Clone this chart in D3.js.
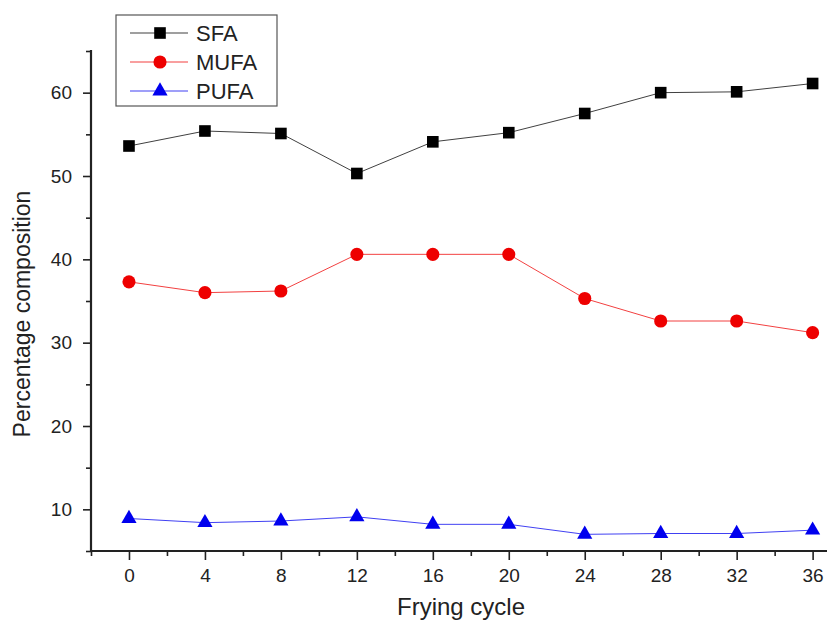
<!DOCTYPE html>
<html>
<head>
<meta charset="utf-8">
<script src="https://cdn.jsdelivr.net/npm/d3@7"></script>
<style>
  body { margin: 0; background: #fff; }
  svg { display: block; font-family: "Liberation Sans", Arial, sans-serif; }
</style>
</head>
<body>
<svg id="chart" width="827" height="623"></svg>
<script>
// frying cycles
const cycles = [0, 4, 8, 12, 16, 20, 24, 28, 32, 36];
const sfa = [53.6, 55.4, 55.1, 50.3, 54.1, 55.2, 57.5, 60.0, 60.1, 61.1];
const mufa = [37.3, 36.0, 36.2, 40.6, 40.6, 40.6, 35.3, 32.6, 32.6, 31.2];
const pufa = [8.9, 8.4, 8.6, 9.1, 8.2, 8.2, 7.0, 7.1, 7.1, 7.5];
const yTicks = [10, 20, 30, 40, 50, 60];

const svg = d3.select("#chart");
const plotLeft = 91, plotTop = 51, plotBottom = 551;

const x = d3.scaleLinear().domain([-2, 38]).range([plotLeft, plotLeft + 40 * 18.99]);
const y = d3.scaleLinear().domain([5, 65]).range([plotBottom, plotTop]);

const series = [
  { name: "SFA", values: sfa, color: "#000000", shape: d3.symbolSquare, size: 135 },
  { name: "MUFA", values: mufa, color: "#ee0000", shape: d3.symbolCircle, size: 135 },
  { name: "PUFA", values: pufa, color: "#0000ee", shape: d3.symbolTriangle, size: 100 }
];

// axes
const xAxis = d3.axisBottom(x).tickValues(cycles).tickSize(9).tickPadding(9).tickFormat(d3.format("d"));
const xMinor = d3.axisBottom(x).tickValues(d3.range(-2, 40, 4)).tickSize(5).tickFormat("");
const yAxis = d3.axisLeft(y).tickValues(yTicks).tickSize(8).tickPadding(11);
const yMinor = d3.axisLeft(y).tickValues(d3.range(5, 70, 10)).tickSize(5).tickFormat("");

function styleAxis(g) {
  g.select(".domain").remove();
  g.selectAll("line").attr("stroke", "#222").attr("stroke-width", 1.6);
  g.selectAll("text").attr("fill", "#222").style("font-size", "19px");
}

svg.append("g").attr("transform", `translate(0,${plotBottom})`).call(xAxis).call(styleAxis);
svg.append("g").attr("transform", `translate(0,${plotBottom})`).call(xMinor).call(styleAxis);
svg.append("g").attr("transform", `translate(${plotLeft},0)`).call(yAxis).call(styleAxis);
svg.append("g").attr("transform", `translate(${plotLeft},0)`).call(yMinor).call(styleAxis);

svg.append("line").attr("x1", plotLeft).attr("x2", plotLeft).attr("y1", plotTop - 1).attr("y2", plotBottom + 1)
  .attr("stroke", "#222").attr("stroke-width", 2.2);
svg.append("line").attr("x1", plotLeft - 1).attr("x2", 827).attr("y1", plotBottom).attr("y2", plotBottom)
  .attr("stroke", "#222").attr("stroke-width", 2.2);

// lines and markers
const line = d3.line().x((d, i) => x(cycles[i])).y(d => y(d));
series.forEach(s => {
  svg.append("path").datum(s.values)
    .attr("d", line).attr("fill", "none")
    .attr("stroke", s.color).attr("stroke-width", 1).attr("opacity", 0.75);
  svg.append("g").selectAll("path").data(s.values).enter().append("path")
    .attr("d", d3.symbol().type(s.shape).size(s.size))
    .attr("transform", (d, i) => `translate(${x(cycles[i])},${y(d)})`)
    .attr("fill", s.color);
});

// axis titles
svg.append("text").attr("x", 461).attr("y", 615).attr("text-anchor", "middle")
  .style("font-size", "24px").attr("fill", "#222").text("Frying cycle");
svg.append("text").attr("transform", "translate(30,314) rotate(-90)").attr("text-anchor", "middle")
  .style("font-size", "23px").attr("fill", "#222").text("Percentage composition");

// legend
const legend = svg.append("g");
legend.append("rect").attr("x", 116).attr("y", 15).attr("width", 161).attr("height", 91)
  .attr("fill", "#fff").attr("stroke", "#555").attr("stroke-width", 1.2);
series.forEach((s, i) => {
  const ly = 33 + i * 29;
  legend.append("line").attr("x1", 130).attr("x2", 188).attr("y1", ly).attr("y2", ly)
    .attr("stroke", s.color).attr("stroke-width", 1).attr("opacity", 0.75);
  legend.append("path").attr("d", d3.symbol().type(s.shape).size(s.size))
    .attr("transform", `translate(160,${ly})`).attr("fill", s.color);
  legend.append("text").attr("x", 196).attr("y", ly + 8).style("font-size", "22px")
    .attr("fill", "#222").text(s.name);
});
</script>
</body>
</html>
